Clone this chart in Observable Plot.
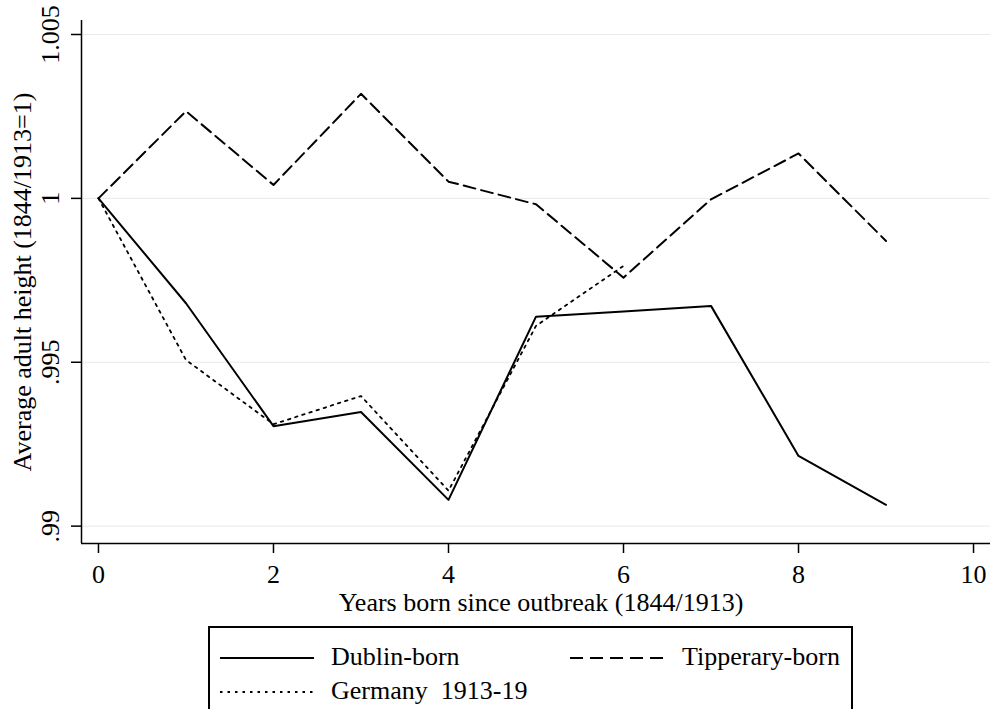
<!DOCTYPE html>
<html><head><meta charset="utf-8">
<script src="https://cdn.jsdelivr.net/npm/d3@7"></script>
<script src="https://cdn.jsdelivr.net/npm/@observablehq/plot@0.6"></script>
<style>
body{margin:0;background:#fff;font-family:"Liberation Serif","Tinos","Times New Roman","Times","DejaVu Serif","Noto Serif",serif;}
#wrap{position:relative;width:992px;height:709px;overflow:hidden;background:#fff;}
#legend{position:absolute;left:208px;top:626px;width:645px;height:120px;border:2px solid #000;box-sizing:border-box;background:#fff;}
.item{position:absolute;font-size:26px;line-height:30px;white-space:pre;color:#000;}
.sample{position:absolute;}
</style>
</head><body>
<div id="wrap"><div id="legend"></div></div>
<script>
// ---- data ----
const years = [0,1,2,3,4,5,6,7,8,9];
const dublin = [1.0, 0.9968, 0.99305, 0.99348, 0.9908, 0.99639, 0.99655, 0.99672, 0.99214, 0.99065];
const tipperary = [1.0, 1.00266, 1.00041, 1.00319, 1.00051, 0.99982, 0.99758, 0.99997, 1.00137, 0.9987];
const germanyYears = [0,1,2,3,4,5,6];
const germany = [1.0, 0.99507, 0.99311, 0.99397, 0.99108, 0.99611, 0.99794];
const xTicks = [0,2,4,6,8,10];
const yTicks = [0.99, 0.995, 1, 1.005];
const yTickLabels = [".99", ".995", "1", "1.005"];
const seriesNames = ["Dublin-born", "Tipperary-born", "Germany  1913-19"];
const xTitle = "Years born since outbreak (1844/1913)";
const yTitle = "Average adult height (1844/1913=1)";

const xDomain = [-0.194, 10.194];
const yDomain = [0.98947, 1.005427];

const dRows = years.map((x,i)=>({x, y: dublin[i]}));
const tRows = years.map((x,i)=>({x, y: tipperary[i]}));
const gRows = germanyYears.map((x,i)=>({x, y: germany[i]}));

const font = '"Liberation Serif","Tinos","Times New Roman","Times","DejaVu Serif","Noto Serif",serif';

const chart = Plot.plot({
  width: 992, height: 620,
  marginLeft: 81, marginRight: 2, marginTop: 20, marginBottom: 77,
  style: {fontFamily: font, fontSize: "26px", background: "white", color: "black", overflow: "visible"},
  x: {domain: xDomain},
  y: {domain: yDomain},
  marks: [
    Plot.ruleY(yTicks, {stroke: "#e9e9e9", strokeWidth: 1}),
    Plot.axisX({ticks: xTicks, tickSize: 10, tickFormat: () => "", label: null, strokeWidth: 1.5}),
    Plot.axisY({ticks: yTicks, tickSize: 10, tickFormat: () => "", label: null, strokeWidth: 1.5}),
    Plot.ruleX([xDomain[0]], {stroke: "black", strokeWidth: 1.5}),
    Plot.ruleY([yDomain[0]], {stroke: "black", strokeWidth: 1.5}),
    Plot.text(xTicks, {x: d => d, frameAnchor: "bottom", dy: 31, text: d => String(d), lineAnchor: "middle", fill: "black", fontFamily: font}),
    Plot.text(yTicks, {y: d => d, frameAnchor: "left", dx: -31, text: (d,i) => yTickLabels[i], rotate: -90, textAnchor: "middle", lineAnchor: "middle", fill: "black", fontFamily: font}),
    Plot.text([xTitle], {frameAnchor: "bottom", dy: 59, dx: 5, text: d => d, lineAnchor: "middle", fill: "black", fontFamily: font}),
    Plot.text([yTitle], {frameAnchor: "left", dx: -59, text: d => d, rotate: -90, textAnchor: "middle", lineAnchor: "middle", fill: "black", fontFamily: font}),
    Plot.line(gRows, {x: "x", y: "y", stroke: "black", strokeWidth: 1.8, strokeDasharray: "2.5,5"}),
    Plot.line(tRows, {x: "x", y: "y", stroke: "black", strokeWidth: 2, strokeDasharray: "12,6"}),
    Plot.line(dRows, {x: "x", y: "y", stroke: "black", strokeWidth: 2})
  ]
});
document.getElementById("wrap").prepend(chart);

// ---- legend ----
const legend = document.getElementById("legend");
const legendItems = [
  {name: seriesNames[0], dash: null, sx: 10, tx: 121, cy: 30},
  {name: seriesNames[1], dash: "13,7", sx: 360, tx: 472, cy: 30},
  {name: seriesNames[2], dash: "2.5,5", sx: 10, tx: 121, cy: 64}
];
legendItems.forEach(it => {
  const svg = d3.create("svg").attr("class", "sample").attr("width", 94).attr("height", 8)
    .style("left", it.sx + "px").style("top", (it.cy - 4) + "px");
  svg.append("line").attr("x1", 0).attr("x2", 94).attr("y1", 4).attr("y2", 4)
    .attr("stroke", "black").attr("stroke-width", 2)
    .attr("stroke-dasharray", it.dash);
  legend.appendChild(svg.node());
  const t = document.createElement("div");
  t.className = "item";
  t.textContent = it.name;
  t.style.left = it.tx + "px";
  t.style.top = (it.cy - 16) + "px";
  t.style.fontFamily = font;
  legend.appendChild(t);
});
</script>
</body></html>
